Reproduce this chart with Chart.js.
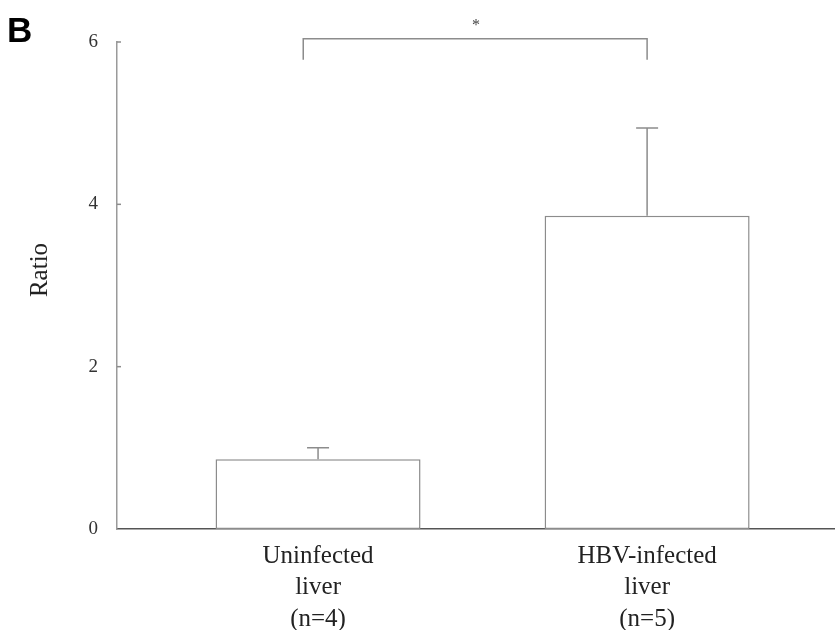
<!DOCTYPE html>
<html>
<head>
<meta charset="utf-8">
<script src="https://cdn.jsdelivr.net/npm/chart.js@4.4.1/dist/chart.umd.min.js"></script>
<style>
  html, body { margin: 0; padding: 0; background: #fff; }
  #wrap { width: 835px; height: 630px; position: relative; }
</style>
</head>
<body>
<div id="wrap"><canvas id="c" width="835" height="630"></canvas></div>
<script>
// Group labels (one array per line of each tick label)
const categories = [
  ['Uninfected', 'liver', '(n=4)'],
  ['HBV-infected', 'liver', '(n=5)']
];
// Mean ratio per group and its upper error
const ratios = [0.86, 3.86];
const errors = [0.14, 1.08];
// Y axis tick values
const yTicks = [0, 2, 4, 6];
// Significance bracket: from group 0 to group 1, top level and leg ends
const bracketGroups = [0, 1];
const bracketTop = 6.04;
const bracketLegEnd = 5.78;
const bracketMark = '*';

const serif = '"Liberation Serif", "Times New Roman", serif';
const lineGray = '#8c8c8c';

const extras = {
  id: 'extras',
  afterDatasetsDraw(chart) {
    const ctx = chart.ctx;
    const xs = chart.scales.x, ys = chart.scales.y;
    const meta = chart.getDatasetMeta(0);
    ctx.save();
    ctx.strokeStyle = lineGray;
    ctx.lineWidth = 1.5;
    // error bars (upper half only)
    meta.data.forEach((bar, i) => {
      const yTop = ys.getPixelForValue(ratios[i] + errors[i]);
      ctx.beginPath();
      ctx.moveTo(bar.x, bar.y);
      ctx.lineTo(bar.x, yTop);
      ctx.moveTo(bar.x - 11, yTop);
      ctx.lineTo(bar.x + 11, yTop);
      ctx.stroke();
    });
    // inward tick marks on the y axis
    yTicks.forEach(v => {
      if (v === 0) return;
      const y = ys.getPixelForValue(v);
      ctx.beginPath();
      ctx.moveTo(xs.left, y);
      ctx.lineTo(xs.left + 4, y);
      ctx.stroke();
    });
    // significance bracket
    const xl = xs.getPixelForValue(bracketGroups[0] - 0.045);
    const xr = xs.getPixelForValue(bracketGroups[1]);
    const yt = ys.getPixelForValue(bracketTop);
    const yb = ys.getPixelForValue(bracketLegEnd);
    ctx.beginPath();
    ctx.moveTo(xl, yb);
    ctx.lineTo(xl, yt);
    ctx.lineTo(xr, yt);
    ctx.lineTo(xr, yb);
    ctx.stroke();
    ctx.fillStyle = '#444';
    ctx.font = '16px ' + serif;
    ctx.textAlign = 'center';
    ctx.textBaseline = 'alphabetic';
    ctx.fillText(bracketMark, xs.getPixelForValue((bracketGroups[0] + bracketGroups[1]) / 2 - 0.02), yt - 9);
    // y axis title
    ctx.save();
    ctx.translate(47, 270);
    ctx.rotate(-Math.PI / 2);
    ctx.fillStyle = '#222';
    ctx.font = '25px ' + serif;
    ctx.textAlign = 'center';
    ctx.textBaseline = 'alphabetic';
    ctx.fillText('Ratio', 0, 0);
    ctx.restore();
    // panel letter
    ctx.fillStyle = '#000';
    ctx.font = 'bold 35px "Liberation Sans", Arial, sans-serif';
    ctx.textAlign = 'left';
    ctx.fillText('B', 7, 42);
    ctx.restore();
  }
};

new Chart(document.getElementById('c'), {
  type: 'bar',
  data: {
    datasets: [{
      data: ratios.map((v, i) => ({ x: i, y: v })),
      backgroundColor: '#ffffff',
      borderColor: lineGray,
      borderWidth: 1.5,
      borderSkipped: false,
      categoryPercentage: 1,
      barPercentage: 0.623
    }]
  },
  options: {
    responsive: false,
    animation: false,
    devicePixelRatio: 1,
    layout: { padding: { left: 0, right: 0, top: 42, bottom: 0 } },
    plugins: { legend: { display: false }, tooltip: { enabled: false } },
    scales: {
      x: {
        type: 'linear',
        offset: false,
        bounds: 'data',
        min: -0.611,
        max: 1.571,
        afterBuildTicks(scale) { scale.ticks = categories.map((_, i) => ({ value: i })); },
        afterFit(scale) { scale.height = 101; },
        grid: { display: false, drawTicks: false, offset: false },
        border: { display: true, color: '#555', width: 1.5 },
        ticks: {
          autoSkip: false,
          maxRotation: 0,
          padding: 12,
          color: '#222',
          font: { family: serif, size: 25, lineHeight: 1.25 },
          callback: (v) => categories[v] || ''
        }
      },
      y: {
        min: 0,
        max: 6,
        afterBuildTicks(scale) { scale.ticks = yTicks.map(v => ({ value: v })); },
        afterFit(scale) { scale.width = 117; },
        grid: { display: false, drawTicks: false },
        border: { display: true, color: '#9a9a9a', width: 1.5 },
        ticks: {
          padding: 19,
          color: '#333',
          font: { family: serif, size: 19 }
        }
      }
    }
  },
  plugins: [extras]
});
</script>
</body>
</html>
